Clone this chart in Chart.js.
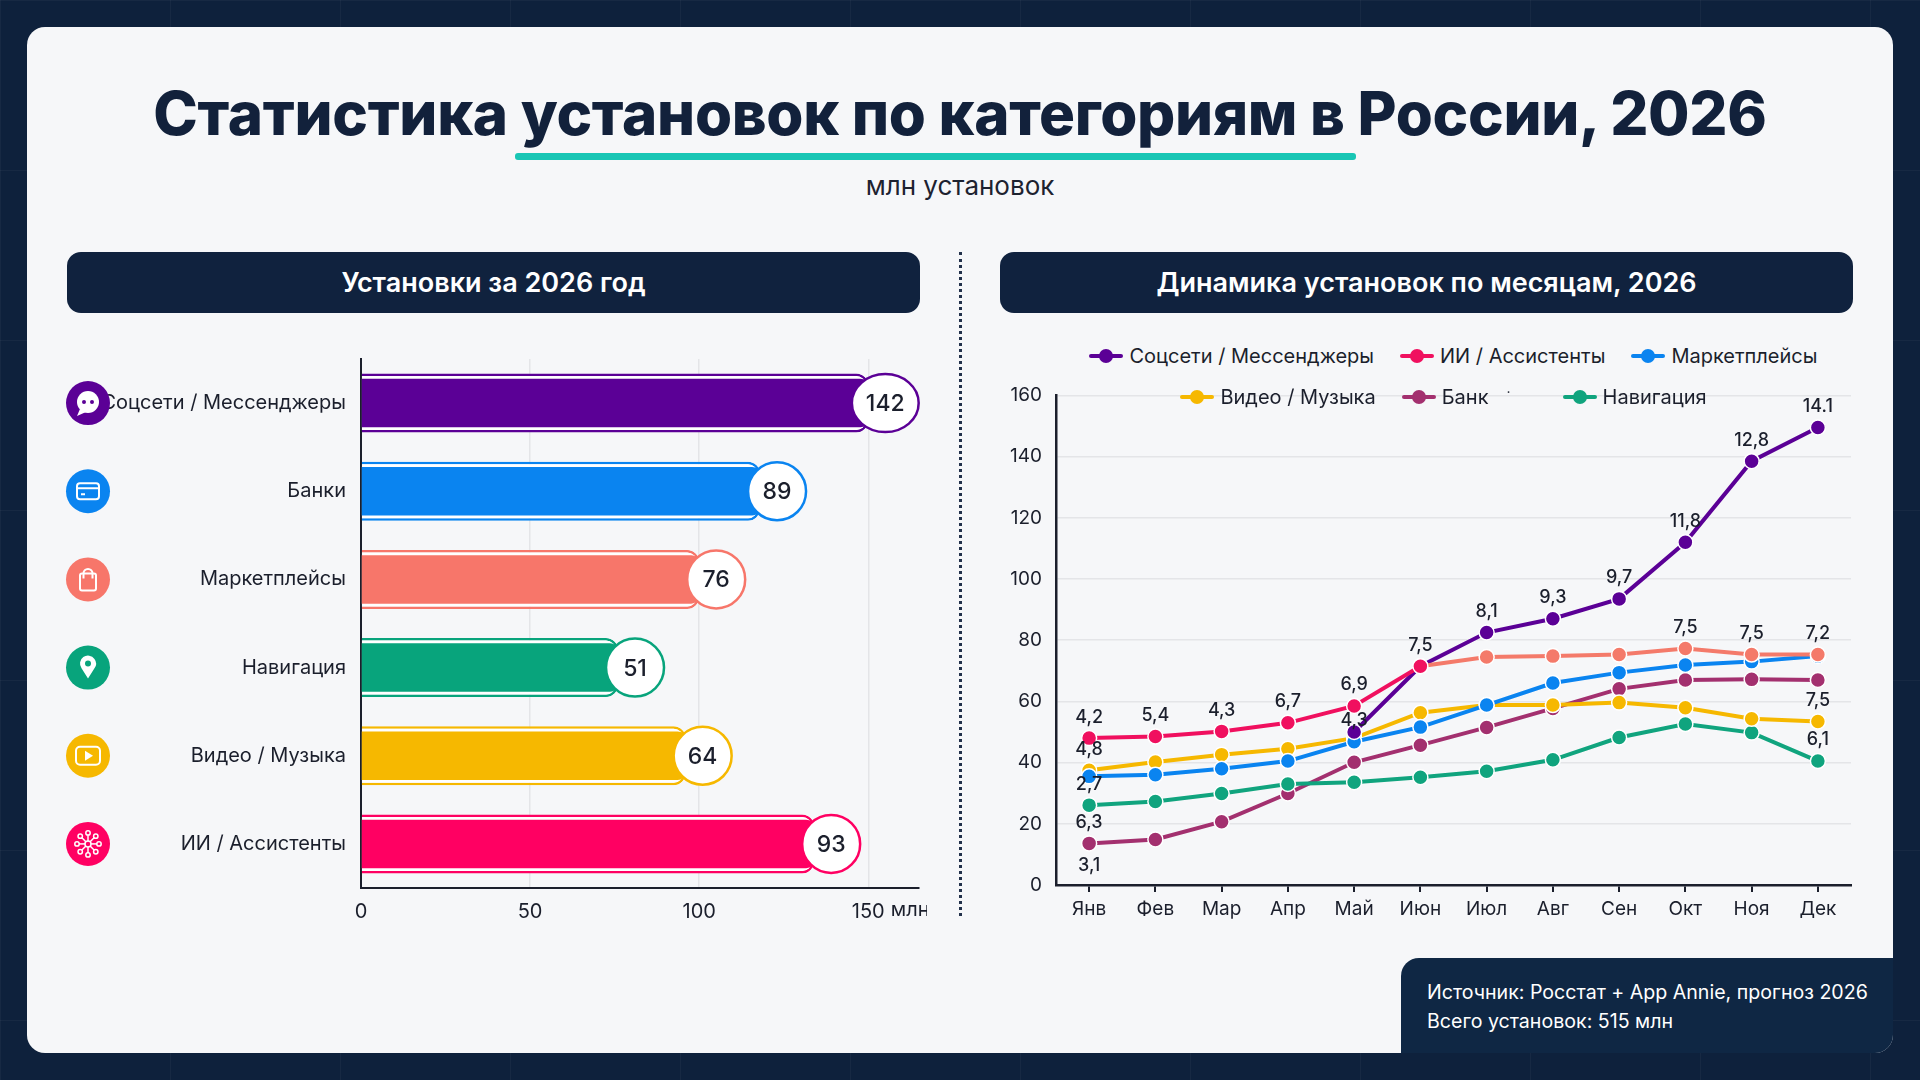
<!DOCTYPE html>
<html lang="ru">
<head>
<meta charset="utf-8">
<script src="https://cdn.jsdelivr.net/npm/chart.js@4.4.1/dist/chart.umd.min.js"></script>
<style>
html,body{margin:0;padding:0;}
body{
  width:1920px;height:1080px;overflow:hidden;position:relative;
  background-color:#0e213c;
  background-image:
    linear-gradient(rgba(255,255,255,0.035) 1px, transparent 1px),
    linear-gradient(90deg, rgba(255,255,255,0.035) 1px, transparent 1px);
  background-size:170px 170px;
  font-family:Inter,"Noto Sans",sans-serif;
}
.card{position:absolute;left:27px;top:27px;width:1866px;height:1026px;background:#f6f7f9;border-radius:18px;}
.title{position:absolute;left:0;top:78px;width:1920px;text-align:center;font-size:60px;font-weight:800;color:#12213b;letter-spacing:-0.3px;line-height:70px;}
.underline{position:absolute;left:515px;top:153px;width:841px;height:7px;background:#19c6b5;border-radius:3px;}
.subtitle{position:absolute;left:0;top:170px;width:1920px;text-align:center;font-size:26px;color:#1d2230;}
.head{position:absolute;top:252px;height:61px;background:#10223e;border-radius:14px;color:#fff;font-size:27px;font-weight:600;text-align:center;line-height:61px;}
.sep{position:absolute;left:959px;top:252px;height:664px;border-left:3px dotted #22314b;}
#barBox{position:absolute;left:60px;top:332px;width:867px;height:608px;}
#lineBox{position:absolute;left:1000px;top:370px;width:860px;height:558px;}
.legend{position:absolute;left:1056px;width:795px;display:flex;justify-content:center;gap:26px;font-size:20px;color:#1b1f2c;}
.legend .it{display:flex;align-items:center;gap:6px;white-space:nowrap;}
.legend .mk{position:relative;width:34px;height:14px;}
.legend .mk i{position:absolute;left:0;top:5px;width:34px;height:4px;border-radius:2px;}
.legend .mk b{position:absolute;left:10px;top:0;width:14px;height:14px;border-radius:50%;}
.source{position:absolute;left:1401px;top:958px;width:492px;height:95px;background:#0f2744;border-radius:18px 0 18px 0;color:#fff;font-size:19.6px;line-height:29px;padding:20px 0 0 26px;box-sizing:border-box;}
</style>
</head>
<body>
<div class="card"></div>
<div class="title">Статистика установок по категориям в России, 2026</div>
<div class="underline"></div>
<div class="subtitle">млн установок</div>
<div class="head" style="left:67px;width:853px;">Установки за 2026 год</div>
<div class="head" style="left:1000px;width:853px;">Динамика установок по месяцам, 2026</div>
<div class="sep"></div>
<div id="barBox"><canvas id="bars"></canvas></div>
<div id="lineBox"><canvas id="lines"></canvas></div>
<div class="legend" id="leg1" style="top:344px;"></div>
<div class="legend" id="leg2" style="top:385px;left:1046px;"></div>
<div class="source">Источник: Росстат + App Annie, прогноз 2026<br>Всего установок: 515 млн</div>

<script>
// --- данные: установки за год ---
var barCats = ["Соцсети / Мессенджеры", "Банки", "Маркетплейсы", "Навигация", "Видео / Музыка", "ИИ / Ассистенты"];
var barValues = [150, 118, 100, 76, 96, 134];   // длина столбцов по оси
var barLabels = ["142", "89", "76", "51", "64", "93"]; // подписи в кружках
var barTicks = [0, 50, 100, 150];
var barColors = ["#5b0096", "#0a84f0", "#f7766a", "#08a47c", "#f6b800", "#ff0062"];

// --- данные: по месяцам ---
var months = ["Янв", "Фев", "Мар", "Апр", "Май", "Июн", "Июл", "Авг", "Сен", "Окт", "Ноя", "Дек"];
var yTicks = [0, 20, 40, 60, 80, 100, 120, 140, 160];
var socData   = [null, null, null, null, 50, 71.5, 82.5, 87, 93.5, 112, 138.5, 149.5];
var aiData    = [48, 48.5, 50.2, 53, 58.5, 71.5, 74.5, 74.8, 75.3, 77.3, 75.3, 75.3];
var mktData   = [35.5, 36, 38, 40.5, 46.8, 51.6, 58.8, 66, 69.4, 71.9, 73, 74.8];
var videoData = [37.5, 40.2, 42.6, 44.5, 48, 56.3, 58.8, 58.8, 59.6, 57.9, 54.3, 53.4];
var bankData  = [13.6, 14.9, 20.7, 29.9, 40.1, 45.7, 51.5, 57.7, 64.1, 67, 67.2, 67];
var navData   = [26.1, 27.3, 29.9, 33, 33.6, 35.2, 37.2, 40.9, 48.2, 52.6, 49.8, 40.5];

// подписи точек (как на картинке)
var socLabels   = [null, null, null, null, null, null, "8,1", "9,3", "9,7", "11,8", "12,8", "14.1"];
var aiLabels    = ["4,2", "5,4", "4,3", "6,7", "6,9", "7,5", null, null, null, "7,5", "7,5", "7,2"];
var mktLabels   = [null, null, null, null, "4,3", null, null, null, null, null, null, null];
var videoLabels = ["4,8", null, null, null, null, null, null, null, null, null, null, "7,5"];
var bankLabels  = ["6,3", null, null, null, null, null, null, null, null, null, null, null];
var bankBelow   = ["3,1", null, null, null, null, null, null, null, null, null, null, null];
var navLabels   = ["2,7", null, null, null, null, null, null, null, null, null, null, "6,1"];

var aiSwitch = 5; // после июня линия ИИ становится лососевой

var dark = "#1b1f2c";
var fontFam = "Inter, 'Noto Sans', sans-serif";

// ---------- иконки слева ----------
function drawIcon(ctx, k, x, y, col) {
  ctx.save();
  ctx.fillStyle = col;
  ctx.beginPath(); ctx.arc(x, y, 22, 0, Math.PI * 2); ctx.fill();
  ctx.strokeStyle = "#fff"; ctx.fillStyle = "#fff"; ctx.lineWidth = 2;
  if (k == 0) {
    ctx.beginPath(); ctx.arc(x, y - 1, 11, 0, Math.PI * 2); ctx.fill();
    ctx.beginPath(); ctx.moveTo(x - 8, y + 6); ctx.lineTo(x - 11, y + 13); ctx.lineTo(x - 2, y + 9); ctx.fill();
    ctx.fillStyle = col;
    ctx.beginPath(); ctx.arc(x - 4, y - 1, 2, 0, Math.PI * 2); ctx.arc(x + 4, y - 1, 2, 0, Math.PI * 2); ctx.fill();
  } else if (k == 1) {
    ctx.beginPath(); ctx.roundRect(x - 11, y - 8, 22, 16, 3); ctx.stroke();
    ctx.beginPath(); ctx.moveTo(x - 11, y - 3); ctx.lineTo(x + 11, y - 3); ctx.stroke();
    ctx.beginPath(); ctx.moveTo(x - 7, y + 3); ctx.lineTo(x - 3, y + 3); ctx.stroke();
  } else if (k == 2) {
    ctx.beginPath(); ctx.roundRect(x - 8, y - 6, 16, 17, 2); ctx.stroke();
    ctx.beginPath(); ctx.arc(x, y - 6, 4.5, Math.PI, 0); ctx.lineTo(x + 4.5, y - 1); ctx.moveTo(x - 4.5, y - 6); ctx.lineTo(x - 4.5, y - 1); ctx.stroke();
  } else if (k == 3) {
    ctx.beginPath(); ctx.arc(x, y - 4, 8, Math.PI * 0.8, Math.PI * 2.2); ctx.lineTo(x, y + 11); ctx.closePath(); ctx.fill();
    ctx.fillStyle = col; ctx.beginPath(); ctx.arc(x, y - 4, 3, 0, Math.PI * 2); ctx.fill();
  } else if (k == 4) {
    ctx.beginPath(); ctx.roundRect(x - 12, y - 9, 24, 18, 4); ctx.stroke();
    ctx.beginPath(); ctx.moveTo(x - 3, y - 5); ctx.lineTo(x + 5, y); ctx.lineTo(x - 3, y + 5); ctx.closePath(); ctx.fill();
  } else {
    ctx.lineWidth = 1.5;
    for (var a = 0; a < 8; a++) {
      var ang = a * Math.PI / 4;
      ctx.beginPath(); ctx.moveTo(x + Math.cos(ang) * 3, y + Math.sin(ang) * 3);
      ctx.lineTo(x + Math.cos(ang) * 9, y + Math.sin(ang) * 9); ctx.stroke();
      ctx.beginPath(); ctx.arc(x + Math.cos(ang) * 11, y + Math.sin(ang) * 11, 2.2, 0, Math.PI * 2); ctx.stroke();
    }
    ctx.beginPath(); ctx.arc(x, y, 3, 0, Math.PI * 2); ctx.stroke();
  }
  ctx.restore();
}

var barDeco = {
  id: "barDeco",
  afterDatasetsDraw: function (chart) {
    var ctx = chart.ctx, xs = chart.scales.x, ys = chart.scales.y;
    ctx.save();
    ctx.font = "500 23px " + fontFam;
    ctx.textAlign = "center"; ctx.textBaseline = "middle";
    for (var i = 0; i < barValues.length; i++) {
      var y = ys.getPixelForValue(i);
      var cx = xs.getPixelForValue(barValues[i]) + 17;
      var tw = ctx.measureText(barLabels[i]).width;
      var rx = Math.max(29, tw / 2 + 14);
      ctx.beginPath(); ctx.ellipse(cx, y, rx, 29, 0, 0, Math.PI * 2);
      ctx.fillStyle = "#fff"; ctx.fill();
      ctx.lineWidth = 2.5; ctx.strokeStyle = barColors[i]; ctx.stroke();
      ctx.fillStyle = dark; ctx.fillText(barLabels[i], cx, y + 1);
      drawIcon(ctx, i, 28, y, barColors[i]);
    }
    // единица измерения справа от последней подписи оси
    ctx.font = "20px " + fontFam;
    var last = barTicks[barTicks.length - 1];
    var lx = xs.getPixelForValue(last) + ctx.measureText(String(last)).width / 2 + 6;
    ctx.textAlign = "left"; ctx.textBaseline = "top";
    ctx.fillText("млн", lx, xs.top + 12);
    ctx.restore();
  }
};

new Chart(document.getElementById("bars"), {
  type: "bar",
  data: {
    labels: barCats,
    datasets: [
      { data: barValues, backgroundColor: barColors, borderWidth: 0, barPercentage: 0.55, categoryPercentage: 1, grouped: false,
        borderRadius: { topRight: 8, bottomRight: 8 }, borderSkipped: "start" },
      { data: barValues, backgroundColor: "#ffffff", borderColor: barColors, borderWidth: 2.5, barPercentage: 0.67, categoryPercentage: 1, grouped: false,
        borderRadius: { topRight: 12, bottomRight: 12 }, borderSkipped: "start" }
    ]
  },
  options: {
    indexAxis: "y",
    responsive: true, maintainAspectRatio: false, animation: false,
    layout: { padding: { top: 0, right: 8, left: 0, bottom: 0 } },
    plugins: { legend: { display: false }, tooltip: { enabled: false } },
    scales: {
      y: {
        afterFit: function (s) { s.width = 301; },
        grid: { display: false, drawTicks: false },
        border: { color: dark, width: 2 },
        ticks: { color: dark, padding: 15, font: { family: fontFam, size: 20 } }
      },
      x: {
        min: 0, max: 165,
        afterFit: function (s) { s.height = 52; },
        afterBuildTicks: function (s) { s.ticks = barTicks.map(function (v) { return { value: v }; }); },
        grid: { color: "#e4e5e8", lineWidth: 1.5, drawTicks: false },
        border: { color: dark, width: 2 },
        ticks: { color: dark, padding: 12, font: { family: fontFam, size: 20 } }
      }
    }
  },
  plugins: [barDeco]
});

// ---------- линии ----------
var cSoc = "#5b0096", cAi = "#f0105f", cAi2 = "#f47a6a", cMkt = "#0a84f0", cVid = "#f6b800", cBank = "#a3306f", cNav = "#10a47e";

var pointLabels = {
  id: "pointLabels",
  afterDatasetsDraw: function (chart) {
    var ctx = chart.ctx;
    ctx.save();
    ctx.font = "500 18px " + fontFam;
    ctx.fillStyle = dark; ctx.textAlign = "center"; ctx.textBaseline = "middle";
    chart.data.datasets.forEach(function (ds, di) {
      var meta = chart.getDatasetMeta(di);
      meta.data.forEach(function (pt, j) {
        if (ds.valueLabels && ds.valueLabels[j]) ctx.fillText(ds.valueLabels[j], pt.x, pt.y - 21);
        if (ds.belowLabels && ds.belowLabels[j]) ctx.fillText(ds.belowLabels[j], pt.x, pt.y + 22);
      });
    });
    ctx.restore();
  }
};

function lineSet(name, data, col, labels) {
  return { label: name, data: data, borderColor: col, backgroundColor: col, pointBackgroundColor: col,
    borderWidth: 4, pointRadius: 7.5, pointBorderColor: "#ffffff", pointBorderWidth: 1.5, tension: 0, valueLabels: labels };
}

var aiSet = lineSet("ИИ / Ассистенты", aiData, cAi, aiLabels);
aiSet.segment = { borderColor: function (c) { return c.p0DataIndex >= aiSwitch ? cAi2 : cAi; } };
aiSet.pointBackgroundColor = function (c) { return c.dataIndex > aiSwitch ? cAi2 : cAi; };
var bankSet = lineSet("Банк", bankData, cBank, bankLabels);
bankSet.belowLabels = bankBelow;

var lineSets = [
  aiSet,
  lineSet("Соцсети / Мессенджеры", socData, cSoc, socLabels),
  lineSet("Маркетплейсы", mktData, cMkt, mktLabels),
  lineSet("Видео / Музыка", videoData, cVid, videoLabels),
  lineSet("Навигация", navData, cNav, navLabels),
  bankSet
];

new Chart(document.getElementById("lines"), {
  type: "line",
  data: { labels: months, datasets: lineSets },
  options: {
    responsive: true, maintainAspectRatio: false, animation: false,
    layout: { padding: { top: 0, right: 9, left: 0, bottom: 0 } },
    plugins: { legend: { display: false }, tooltip: { enabled: false } },
    scales: {
      y: {
        min: 0, max: 160,
        afterFit: function (s) { s.width = 56; },
        afterBuildTicks: function (s) { s.ticks = yTicks.map(function (v) { return { value: v }; }); },
        grid: { color: "#e4e5e8", lineWidth: 1.5, drawTicks: false },
        border: { color: dark, width: 2.5 },
        ticks: { color: dark, padding: 14, font: { family: fontFam, size: 19 } }
      },
      x: {
        offset: true,
        afterFit: function (s) { s.height = 43; },
        grid: { drawOnChartArea: false, tickLength: 7, color: dark, lineWidth: 2 },
        border: { color: dark, width: 2.5 },
        ticks: { color: dark, padding: 6, font: { family: fontFam, size: 19 } }
      }
    }
  },
  plugins: [pointLabels]
});

// ---------- легенда ----------
var legRows = [
  [["Соцсети / Мессенджеры", cSoc], ["ИИ / Ассистенты", cAi], ["Маркетплейсы", cMkt]],
  [["Видео / Музыка", cVid], ["Банк", cBank], ["·", null], ["Навигация", cNav]]
];
legRows.forEach(function (row, r) {
  var box = document.getElementById(r == 0 ? "leg1" : "leg2");
  row.forEach(function (it) {
    var d = document.createElement("div");
    d.className = "it";
    if (it[1]) d.innerHTML = '<span class="mk"><i style="background:' + it[1] + '"></i><b style="background:' + it[1] + '"></b></span>' + it[0];
    else d.innerHTML = '<span style="font-size:14px;position:relative;top:-6px;margin:0 26px 0 -8px">' + it[0] + '</span>';
    box.appendChild(d);
  });
});
</script>
</body>
</html>
